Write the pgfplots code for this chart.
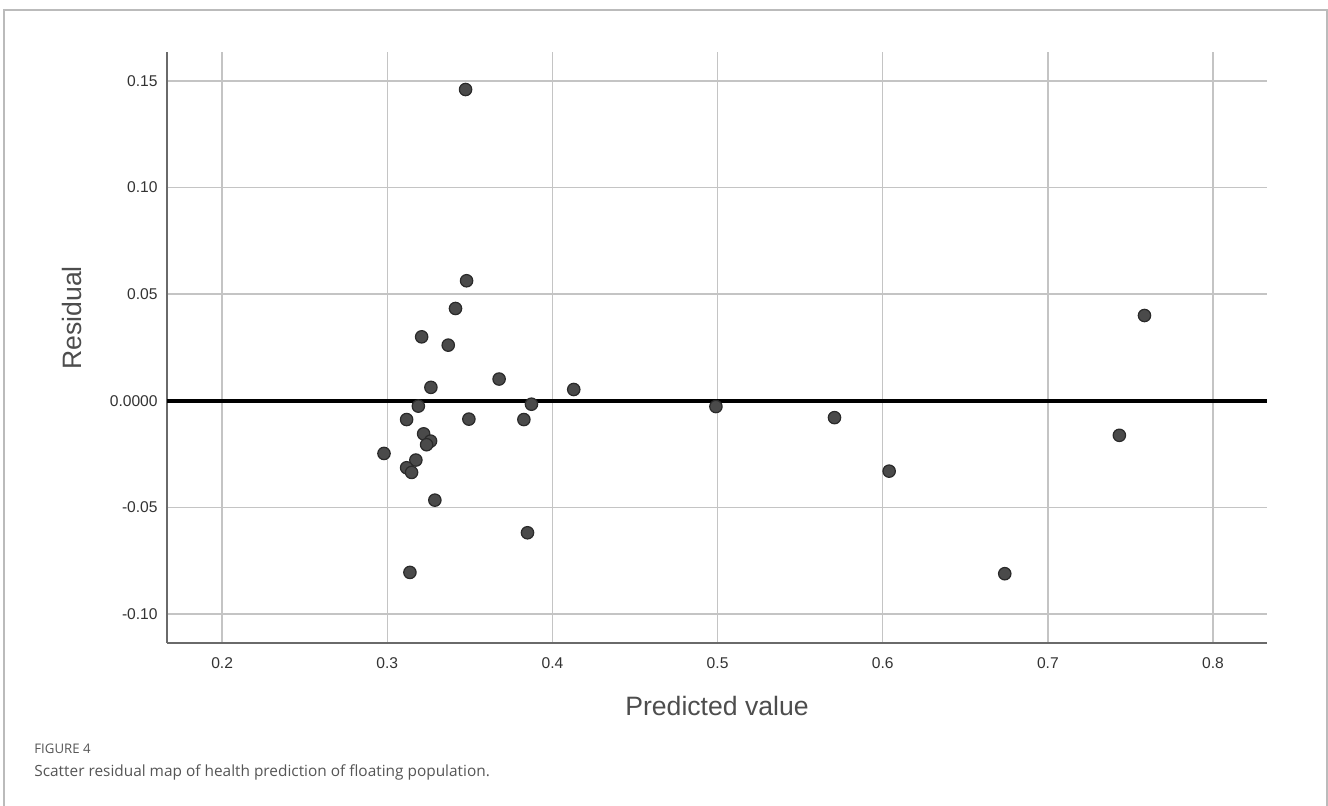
\documentclass[border=0pt]{standalone}
\usepackage{pgfplots}
\pgfplotsset{compat=1.18}
\usepackage{fontspec}
\setmainfont{Liberation Sans}
\newfontfamily\capfont{Open Sans}
\definecolor{gridc}{HTML}{C4C4C4}
\definecolor{axc}{HTML}{6A6A6A}
\definecolor{dotfill}{HTML}{4A4A4A}
\definecolor{dotedge}{HTML}{2A2A2A}
\definecolor{labc}{HTML}{4D4D4D}
\definecolor{tickc}{HTML}{333333}
\definecolor{framec}{HTML}{BBBBBB}
\definecolor{capc}{HTML}{555555}
\pgfplotstableread{
x y
0.3474 0.1460
0.3480 0.0563
0.3413 0.0433
0.3208 0.0300
0.3369 0.0261
0.3677 0.0102
0.3264 0.0063
0.4129 0.0053
0.3188 -0.0025
0.3873 -0.0016
0.3117 -0.0088
0.3494 -0.0086
0.3827 -0.0088
0.3220 -0.0155
0.3262 -0.0189
0.3238 -0.0206
0.2980 -0.0247
0.3173 -0.0278
0.3117 -0.0314
0.3147 -0.0336
0.3288 -0.0466
0.3849 -0.0619
0.3137 -0.0805
0.4990 -0.0027
0.5708 -0.0079
0.6039 -0.0330
0.6739 -0.0811
0.7433 -0.0162
0.7585 0.0400
}\residuals
\begin{document}
\begin{tikzpicture}
\path[use as bounding box] (0,0) rectangle (664pt,403pt);
\draw[framec, line width=0.8pt] (2pt,-2pt) -- (2pt,398pt) -- (663.5pt,398pt) -- (663.5pt,-2pt);
\begin{axis}[
  at={(83.5pt,81.5pt)}, anchor=south west,
  scale only axis, width=550pt, height=295.5pt,
  xmin=0.1666, xmax=0.8327, ymin=-0.1136, ymax=0.1636,
  axis lines*=left,
  axis line style={axc, line width=1pt},
  major tick length=0pt,
  grid=major,
  major grid style={gridc, line width=0.75pt},
  xtick={0.2,0.3,0.4,0.5,0.6,0.7,0.8},
  xticklabels={0.2,0.3,0.4,0.5,0.6,0.7,0.8},
  ytick={-0.10,-0.05,0,0.05,0.10,0.15},
  yticklabels={-0.10,-0.05,0.0000,0.05,0.10,0.15},
  tick label style={font=\fontsize{7.8}{9}\selectfont, text=tickc},
  xticklabel style={anchor=north, inner sep=0pt, yshift=-7pt},
  yticklabel style={anchor=east, inner sep=0pt, xshift=-4.5pt},
  xlabel={Predicted value}, ylabel={Residual},
  label style={font=\fontsize{13.3}{15}\selectfont, text=labc},
  xlabel style={at={(axis description cs:0.5,-0.1066)}, anchor=center},
  ylabel style={at={(axis description cs:-0.0864,0.55)}, anchor=center},
]
\addplot[black, line width=2pt, forget plot] coordinates {(0.1666,0) (0.8327,0)};
\addplot[only marks, mark=*, mark size=3.1pt, mark options={fill=dotfill, draw=dotedge, line width=0.6pt}] table[x=x, y=y] {\residuals};
\end{axis}
\node[anchor=west, inner sep=0pt, text=capc, font=\capfont\fontsize{6.6}{8}\selectfont] at (17pt,28.75pt) {FIGURE 4};
\node[anchor=west, inner sep=0pt, text=capc, font=\capfont\fontsize{7.7}{9}\selectfont] at (17pt,16.75pt) {Scatter residual map of health prediction of floating population.};
\end{tikzpicture}
\end{document}
